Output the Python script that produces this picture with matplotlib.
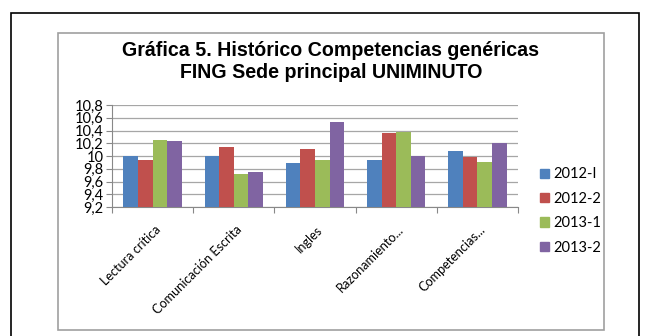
import matplotlib
matplotlib.use("Agg")
import matplotlib.pyplot as plt
from matplotlib.patches import Rectangle
import numpy as np

categories = ["Lectura crítica", "Comunicación Escrita", "Ingles", "Razonamiento...", "Competencias..."]
series_names = ["2012-I", "2012-2", "2013-1", "2013-2"]
s2012_1 = [10.0, 10.0, 9.89, 9.93, 10.08]
s2012_2 = [9.93, 10.14, 10.11, 10.36, 9.99]
s2013_1 = [10.25, 9.71, 9.94, 10.38, 9.91]
s2013_2 = [10.24, 9.75, 10.535, 10.0, 10.2]
yticks = [9.2, 9.4, 9.6, 9.8, 10.0, 10.2, 10.4, 10.6, 10.8]
ytick_labels = ["9,2", "9,4", "9,6", "9,8", "10", "10,2", "10,4", "10,6", "10,8"]
colors = ["#4F81BD", "#C0504D", "#9BBB59", "#8064A2"]

W, H = 647, 336
fig = plt.figure(figsize=(W/100, H/100), dpi=100)

# outer black border
fig.add_artist(Rectangle((11/W, -0.05), (639-11)/W, 1.05 - 13/H, transform=fig.transFigure,
                         fill=False, edgecolor="black", linewidth=1.2))
# inner gray chart border
fig.add_artist(Rectangle((58/W, 1-330/H), (604-58)/W, (330-33)/H, transform=fig.transFigure,
                         fill=False, edgecolor="#A0A0A0", linewidth=1.2))

fig.text(331/W, 1-50/H, "Gráfica 5. Histórico Competencias genéricas", ha="center", va="center",
         fontsize=14.1, fontweight="bold", family="Liberation Sans")
fig.text(331/W, 1-72/H, "FING Sede principal UNIMINUTO", ha="center", va="center",
         fontsize=14.1, fontweight="bold", family="Liberation Sans")

ax = fig.add_axes([112/W, 1-207/H, (518-112)/W, (207-105)/H])
series = [s2012_1, s2012_2, s2013_1, s2013_2]
x = np.arange(len(categories))
bw = 0.18
for i, (vals, c, name) in enumerate(zip(series, colors, series_names)):
    ax.bar(x + (i - 1.5) * bw, np.array(vals) - 9.2, bottom=9.2, width=bw, color=c, label=name, zorder=3)

ax.set_xlim(-0.5, len(categories) - 0.5)
ax.set_ylim(9.2, 10.8)
ax.set_yticks(yticks)
ax.set_yticklabels(ytick_labels, family="Lato", fontsize=10.5)
ax.yaxis.grid(True, color="#A6A6A6", linewidth=0.9, zorder=0)
ax.set_axisbelow(True)
for sp in ["top", "right"]:
    ax.spines[sp].set_visible(False)
ax.spines["left"].set_color("#888888")
ax.spines["bottom"].set_color("#888888")
ax.tick_params(axis="y", length=4, color="#888888", pad=2)
ax.set_xticks(np.arange(-0.5, len(categories), 1.0), minor=False)
ax.set_xticklabels([])
ax.tick_params(axis="x", length=4, color="#888888")
ax.set_xticks(x + 0.02, minor=True)
ax.set_xticklabels(categories, minor=True, rotation=45, ha="right", rotation_mode="anchor",
                   family="Lato", fontsize=9.1)
ax.tick_params(axis="x", which="minor", length=0, pad=12)

handles = [Rectangle((0, 0), 1, 1, color=c) for c in colors]
fig.legend(handles, series_names, loc="center left", bbox_to_anchor=(527/W, 1-211/H),
           frameon=False, prop={"family": "Lato", "size": 10.5}, handlelength=0.6,
           handleheight=0.6, labelspacing=0.71, handletextpad=0.3)

fig.savefig("out.png", dpi=100)
